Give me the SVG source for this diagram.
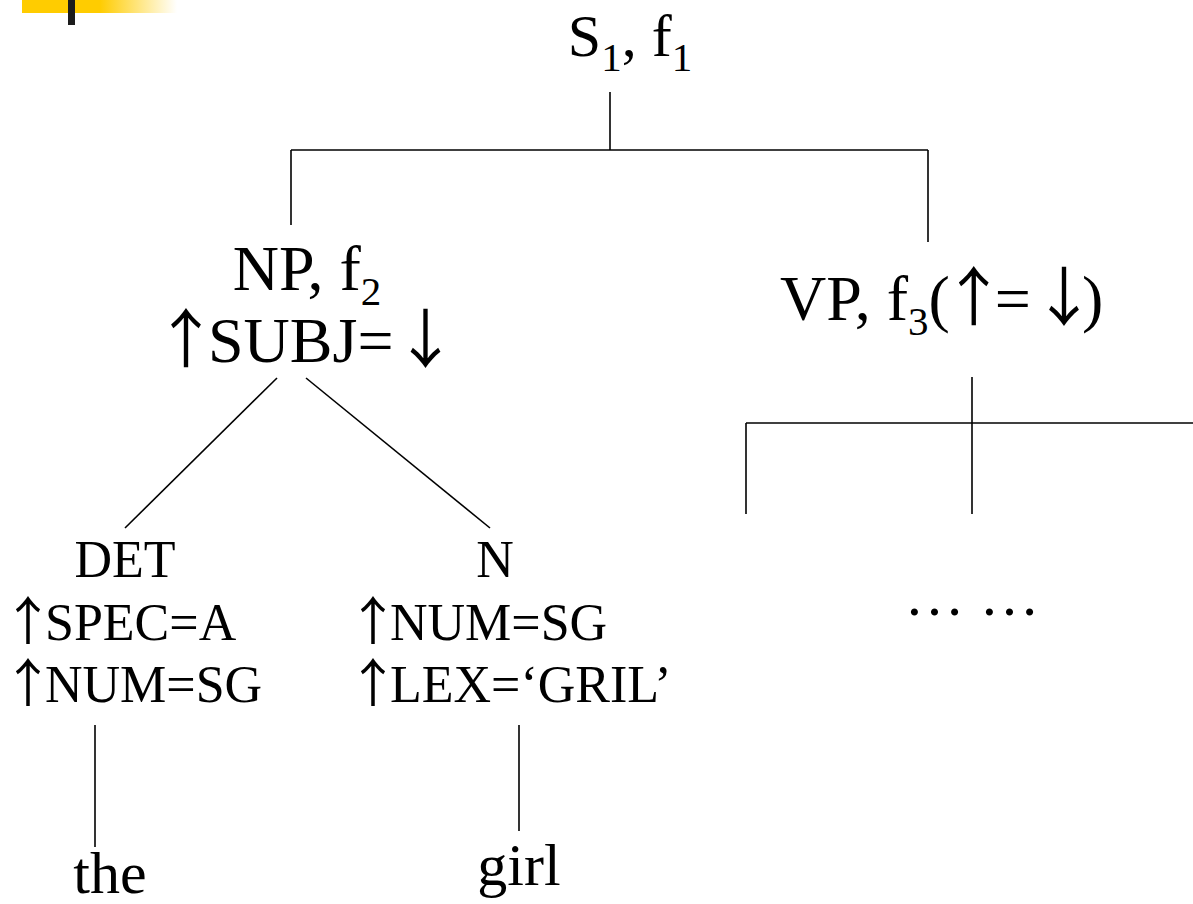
<svg xmlns="http://www.w3.org/2000/svg" width="1193" height="904" viewBox="0 0 1193 904">
<style>
  text, tspan { font-family: "Liberation Serif", "Times New Roman", serif; fill: #000; }
  .arr { font-family: "Noto Sans CJK JP", "DejaVu Sans", sans-serif; }
  .big { font-size: 64px; }
  .top { font-size: 60px; }
  .mid { font-size: 52px; }
  .sub { font-size: 41px; }
  .edge { stroke: #000; stroke-width: 1.6; fill: none; }
  .mid-c { text-anchor: middle; }
</style>
<defs>
  <linearGradient id="yel" x1="0" y1="0" x2="1" y2="0">
    <stop offset="0" stop-color="#FFCC00"/>
    <stop offset="0.5" stop-color="#FFCC00"/>
    <stop offset="1" stop-color="#FFFFFF"/>
  </linearGradient>
</defs>
<rect width="1193" height="904" fill="#fff"/>
<g id="decor">
  <rect x="22" y="0" width="155" height="13" fill="url(#yel)"/>
  <rect x="68" y="0" width="7" height="25" fill="#1c1c1c"/>
</g>
<g id="connectors">
  <line class="edge" x1="610" y1="92" x2="610" y2="150"/>
  <line class="edge" x1="291" y1="150" x2="928" y2="150"/>
  <line class="edge" x1="291" y1="150" x2="291" y2="225"/>
  <line class="edge" x1="928" y1="150" x2="928" y2="242"/>
  <line class="edge" x1="277" y1="378" x2="125" y2="528"/>
  <line class="edge" x1="306" y1="378" x2="490" y2="528"/>
  <line class="edge" x1="972" y1="377" x2="972" y2="514"/>
  <line class="edge" x1="746" y1="423" x2="1193" y2="423"/>
  <line class="edge" x1="746" y1="423" x2="746" y2="514"/>
  <line class="edge" x1="95" y1="725" x2="95" y2="847"/>
  <line class="edge" x1="519" y1="725" x2="519" y2="831"/>
</g>
<g id="node-S">
  <text class="top mid-c" x="630" y="56">S<tspan class="sub" dy="15">1</tspan><tspan dy="-15">, f</tspan><tspan class="sub" dy="15">1</tspan></text>
</g>
<g id="node-NP">
  <text class="big mid-c" x="307" y="290">NP, f<tspan class="sub" dy="15">2</tspan></text>
  <text class="big" x="154" y="362"><tspan class="arr" letter-spacing="-10">↑</tspan>SUBJ= <tspan class="arr" dx="-16">↓</tspan></text>
</g>
<g id="node-VP">
  <text class="big" x="780" y="320">VP, f<tspan class="sub" dy="15">3</tspan><tspan dy="-15">(</tspan><tspan class="arr" dx="-8" letter-spacing="-11">↑</tspan>= <tspan class="arr" dx="-15" letter-spacing="-14">↓</tspan>)</text>
</g>
<g id="node-DET">
  <text class="mid mid-c" x="125" y="577">DET</text>
  <text class="mid" x="2" y="640"><tspan class="arr" letter-spacing="-9">↑</tspan>SPEC=A</text>
  <text class="mid" x="2" y="702"><tspan class="arr" letter-spacing="-9">↑</tspan>NUM=SG</text>
</g>
<g id="node-N">
  <text class="mid mid-c" x="495" y="577">N</text>
  <text class="mid" x="347" y="640"><tspan class="arr" letter-spacing="-9">↑</tspan>NUM=SG</text>
  <text class="mid" x="347" y="702"><tspan class="arr" letter-spacing="-9">↑</tspan>LEX=‘GRIL’</text>
</g>
<g id="node-dots">
  <text class="top mid-c" x="972" y="615">… …</text>
</g>
<g id="node-the">
  <text class="top mid-c" x="110" y="893">the</text>
</g>
<g id="node-girl">
  <text class="top mid-c" x="519" y="885">girl</text>
</g>
</svg>
